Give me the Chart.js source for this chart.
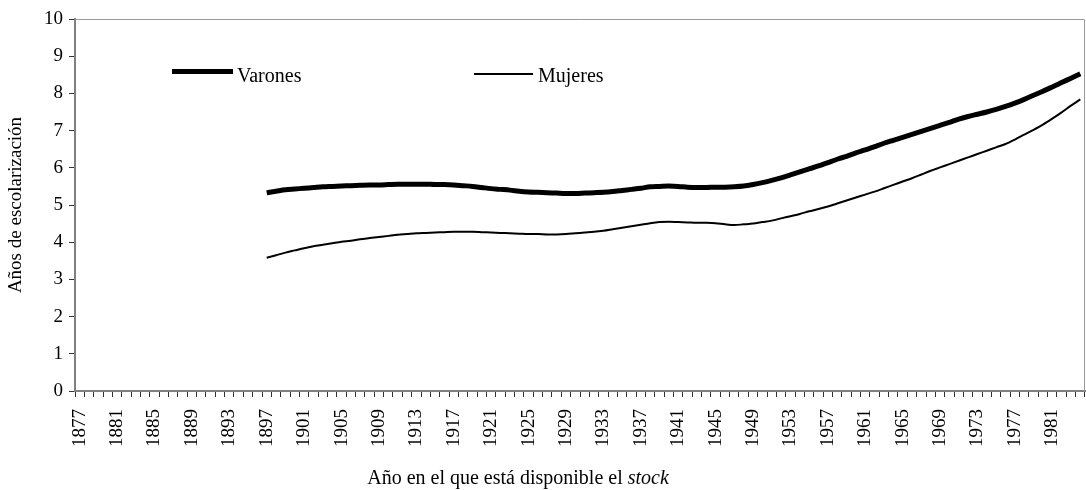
<!DOCTYPE html>
<html>
<head>
<meta charset="utf-8">
<script src="https://cdn.jsdelivr.net/npm/chart.js@4"></script>
<style>
  body { margin:0; background:#fff; }
  #wrap { position:relative; width:1086px; height:490px; font-family:"Liberation Serif", serif; color:#000; }
  canvas { position:absolute; left:0; top:0; }
  .leg { position:absolute; font-size:20px; line-height:20px; }
  .sw { position:absolute; background:#000; }
  #xtitle { position:absolute; left:0; width:1036px; top:466px; text-align:center; font-size:20px; }
</style>
</head>
<body>
<div id="wrap">
  <canvas id="c" width="1086" height="490"></canvas>
  <div class="sw" style="left:172px;top:69px;width:61px;height:5px"></div>
  <div class="leg" style="left:237px;top:65px">Varones</div>
  <div class="sw" style="left:474px;top:73px;width:59px;height:2px"></div>
  <div class="leg" style="left:538px;top:65px">Mujeres</div>
  <div id="xtitle">Año en el que está disponible el <i>stock</i></div>
</div>
<script>
// years on the category axis
const years = [];
for (let y = 1877; y <= 1984; y++) years.push(String(y));

// series start in 1897 (20 empty slots before)
const gap = new Array(20).fill(null);

const varones = [
  5.33,5.37,5.41,5.43,5.45,5.47,5.49,5.50,5.51,5.52,
  5.53,5.54,5.54,5.55,5.56,5.56,5.56,5.56,5.55,5.55,
  5.54,5.52,5.50,5.47,5.44,5.42,5.40,5.37,5.35,5.34,
  5.33,5.32,5.31,5.31,5.32,5.33,5.34,5.36,5.39,5.42,
  5.45,5.49,5.50,5.51,5.50,5.48,5.47,5.47,5.48,5.48,
  5.49,5.51,5.55,5.60,5.66,5.73,5.81,5.89,5.97,6.05,
  6.14,6.23,6.31,6.40,6.48,6.57,6.66,6.74,6.82,6.90,
  6.98,7.06,7.14,7.22,7.31,7.38,7.44,7.50,7.57,7.65,
  7.74,7.84,7.95,8.06,8.17,8.29,8.41,8.53
];

const mujeres = [
  3.58,3.65,3.72,3.78,3.84,3.89,3.93,3.97,4.01,4.04,
  4.08,4.11,4.14,4.17,4.20,4.22,4.24,4.25,4.26,4.27,
  4.28,4.28,4.28,4.27,4.26,4.25,4.24,4.23,4.22,4.22,
  4.21,4.21,4.22,4.24,4.26,4.28,4.31,4.35,4.39,4.43,
  4.47,4.51,4.54,4.55,4.54,4.53,4.52,4.52,4.51,4.48,
  4.46,4.48,4.50,4.54,4.58,4.64,4.70,4.76,4.83,4.89,
  4.96,5.04,5.12,5.20,5.28,5.36,5.45,5.54,5.63,5.72,
  5.82,5.92,6.01,6.10,6.19,6.28,6.37,6.46,6.55,6.64,
  6.76,6.89,7.02,7.16,7.32,7.49,7.67,7.84
];

const yTicks = [0,1,2,3,4,5,6,7,8,9,10];

const font = { family: '"Liberation Serif", serif', size: 19 };

// grey frame on top and right of the plot area
const frame = {
  id: 'frame',
  afterDraw(chart) {
    const { ctx, chartArea: a } = chart;
    ctx.save();
    ctx.strokeStyle = '#9a9a9a';
    ctx.lineWidth = 1;
    ctx.beginPath();
    ctx.moveTo(a.left, a.top + 0.5);
    ctx.lineTo(a.right - 0.5, a.top + 0.5);
    ctx.lineTo(a.right - 0.5, a.bottom);
    ctx.stroke();
    ctx.restore();
  }
};

new Chart(document.getElementById('c'), {
  type: 'line',
  data: {
    labels: years,
    datasets: [
      { label: 'Varones', data: gap.concat(varones), borderColor: '#000', borderWidth: 5, pointRadius: 0, tension: 0.3, borderCapStyle: 'butt' },
      { label: 'Mujeres', data: gap.concat(mujeres), borderColor: '#000', borderWidth: 2, pointRadius: 0, tension: 0.3, borderCapStyle: 'butt' }
    ]
  },
  options: {
    responsive: false,
    animation: false,
    layout: { padding: { top: 19, right: 1, left: 5, bottom: 0 } },
    plugins: { legend: { display: false }, tooltip: { enabled: false } },
    scales: {
      x: {
        offset: true,
        grid: { offset: true, drawOnChartArea: false, tickLength: 6, color: '#333', lineWidth: 1 },
        border: { color: '#808080', width: 2 },
        ticks: {
          autoSkip: false, maxRotation: 90, minRotation: 90, padding: 12,
          color: '#000', font: font,
          callback: (v, i) => (i % 4 === 0 ? years[i] : '')
        },
        afterFit: s => { s.height = 99; s.paddingLeft = 0; s.paddingRight = 0; }
      },
      y: {
        min: 0, max: 10,
        afterBuildTicks: s => { s.ticks = yTicks.map(v => ({ value: v })); },
        grid: { drawOnChartArea: false, tickLength: 6, color: '#333' },
        border: { color: '#808080', width: 2 },
        ticks: { color: '#000', font: font, padding: 6 },
        title: { display: true, text: 'Años de escolarización', color: '#000', font: { family: font.family, size: 19 }, padding: 0 },
        afterFit: s => { s.width = 70; }
      }
    }
  },
  plugins: [frame]
});
</script>
</body>
</html>
